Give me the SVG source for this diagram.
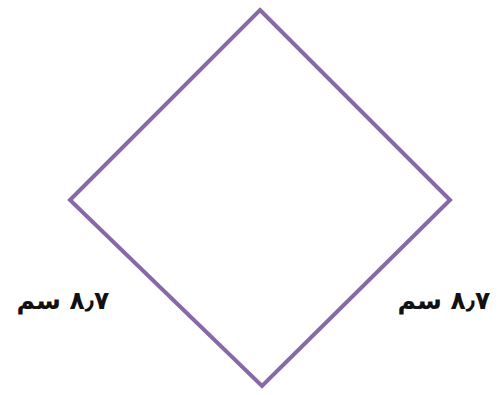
<svg xmlns="http://www.w3.org/2000/svg" width="502" height="395" viewBox="0 0 502 395">
<style>
.lbl{font-family:"DejaVu Sans","Noto Sans",sans-serif;font-size:25px;font-weight:bold;fill:#111;text-anchor:middle}
</style>
<rect width="502" height="395" fill="#fff"/>
<g id="rhombus">
<polygon points="260,10 450,200 262,386 70,200" fill="none" stroke="#8768a8" stroke-width="4" stroke-linejoin="miter"/>
</g>
<g id="labels">
<text class="lbl" x="63" y="309" direction="rtl">٨٫٧ سم</text>
<text class="lbl" x="444" y="309" direction="rtl">٨٫٧ سم</text>
</g>
</svg>
